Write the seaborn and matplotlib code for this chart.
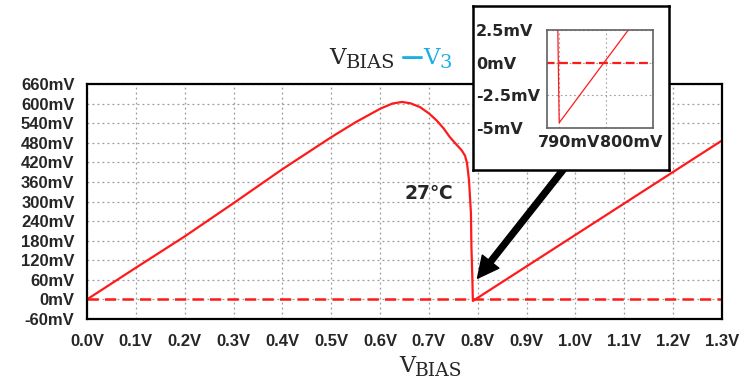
import matplotlib
matplotlib.use('Agg')
import matplotlib.pyplot as plt
import seaborn as sns
from matplotlib.transforms import ScaledTranslation

# V_BIAS - V3 sweep at 27C (V, mV)
v_bias = [0.0, 0.1, 0.2, 0.3, 0.4, 0.5, 0.55, 0.6, 0.625, 0.645, 0.662, 0.682,
          0.700, 0.716, 0.730, 0.743, 0.756, 0.767, 0.774, 0.778, 0.782, 0.786,
          0.787, 0.789, 0.7897, 0.7900, 1.3]
v_diff = [0, 97, 193, 295, 399, 497, 543, 584, 600, 605, 601, 589,
          570, 548, 524, 497, 475, 457, 440, 417, 366, 265,
          162, 61, 10, -4.6, 487]
zero_v = [0.0, 1.3]
zero_mv = [0, 0]

x_ticks = [0.0, 0.1, 0.2, 0.3, 0.4, 0.5, 0.6, 0.7, 0.8, 0.9, 1.0, 1.1, 1.2, 1.3]
x_labels = ['0.0V', '0.1V', '0.2V', '0.3V', '0.4V', '0.5V', '0.6V', '0.7V',
            '0.8V', '0.9V', '1.0V', '1.1V', '1.2V', '1.3V']
y_ticks = [-60, 0, 60, 120, 180, 240, 300, 360, 420, 480, 540, 600, 660]
y_labels = ['-60mV', '0mV', '60mV', '120mV', '180mV', '240mV', '300mV', '360mV',
            '420mV', '480mV', '540mV', '600mV', '660mV']

# zoomed window around the dip (mV, mV)
in_x_ticks = [790, 795, 800]
in_x_labels = ['790mV', '', '800mV']
in_y_ticks = [2.5, 0, -2.5, -5]
in_y_labels = ['2.5mV', '0mV', '-2.5mV', '-5mV']

RED = '#FF1A1A'
CYAN = '#1AAEE8'

sns.set_style('white')
plt.rcParams['font.family'] = ['Liberation Sans', 'DejaVu Sans']

W, H = 752, 382
fig = plt.figure(figsize=(W / 100, H / 100), dpi=100)

def fx(px):
    return px / W

def fy(py):
    return 1 - py / H

# main axes
ax = fig.add_axes([fx(87), fy(319), fx(635), 235 / H])
sns.lineplot(x=v_bias, y=v_diff, ax=ax, color=RED, lw=1.6, errorbar=None)
sns.lineplot(x=zero_v, y=zero_mv, ax=ax, color=RED, lw=1.8, errorbar=None,
             linestyle=(0, (4.5, 2.5)))
ax.set_xlim(0, 1.3)
ax.set_ylim(-60, 660)
ax.set_xticks(x_ticks, x_labels)
ax.set_yticks(y_ticks, y_labels)
ax.grid(True, color='#9a9a9a', lw=0.9, linestyle=(0, (1.5, 2.5)))
for s in ax.spines.values():
    s.set_color('black')
    s.set_linewidth(1.6)
ax.tick_params(direction='out', length=7, width=1.6, color='black',
               labelsize=12, pad=2)
ax.tick_params(axis='x', pad=3.5)
for lab in ax.get_xticklabels() + ax.get_yticklabels():
    lab.set_fontweight('bold')

ax.text(0.70, 326, '27\u2103', fontsize=13.5, fontweight='bold',
        family=['DejaVu Sans'], ha='center', va='center')

ax.annotate('', xy=(0.7995, 65), xytext=(0.99, 426),
            arrowprops=dict(arrowstyle='simple,head_width=0.8,head_length=0.8,tail_width=0.22',
                            color='black', mutation_scale=19, shrinkA=0, shrinkB=0),
            annotation_clip=False, zorder=4)

# title  V_BIAS - V3
serif = ['DejaVu Serif']
t1 = fig.text(fx(329), fy(64), 'V', fontsize=16.5, family=serif, va='baseline')
t2 = ax.annotate('BIAS', xy=(1, 0), xycoords=t1, xytext=(0, 1),
                 textcoords='offset points', fontsize=14, family=serif,
                 va='baseline', ha='left', annotation_clip=False)
t3 = ax.annotate('\u2014', xy=(1, 0), xycoords=(t2, t1), xytext=(4, 0),
                 textcoords='offset points', fontsize=16.5, family=serif,
                 fontweight='bold', color=CYAN, va='bottom', ha='left',
                 annotation_clip=False)
t4 = ax.annotate('V', xy=(1, 0), xycoords=(t3, t1), fontsize=16.5, family=serif,
                 color=CYAN, va='bottom', ha='left', annotation_clip=False)
t5 = ax.annotate('3', xy=(1, 0), xycoords=t4, xytext=(0, 1),
                 textcoords='offset points', fontsize=14, family=serif,
                 color=CYAN, va='baseline', ha='left', annotation_clip=False)

# x label  V_BIAS
x1 = fig.text(fx(399), fy(372), 'V', fontsize=16, family=serif, va='baseline')
ax.annotate('BIAS', xy=(1, 0), xycoords=x1, xytext=(0, 1),
            textcoords='offset points', fontsize=13.5, family=serif,
            va='baseline', ha='left', annotation_clip=False)

# inset frame
ax_box = fig.add_axes([fx(473), fy(170), fx(196), 164 / H], zorder=5)
ax_box.set_xticks([])
ax_box.set_yticks([])
ax_box.set_facecolor('white')
for s in ax_box.spines.values():
    s.set_color('black')
    s.set_linewidth(1.8)

ax_in = fig.add_axes([fx(547), fy(128), fx(106), 98 / H], zorder=6)
sns.lineplot(x=[v * 1000 for v in v_bias], y=v_diff, ax=ax_in, color=RED,
             lw=0.9, errorbar=None)
sns.lineplot(x=[v * 1000 for v in zero_v], y=zero_mv, ax=ax_in, color=RED,
             lw=1.6, errorbar=None, linestyle=(0, (4, 2)))
ax_in.set_xlim(788.7, 800)
ax_in.set_ylim(-5, 2.5)
ax_in.set_xticks(in_x_ticks, in_x_labels)
ax_in.set_yticks(in_y_ticks, in_y_labels)
ax_in.grid(True, color='#a0a0a0', lw=0.8, linestyle=(0, (1.5, 2.5)))
for s in ax_in.spines.values():
    s.set_color('#606060')
    s.set_linewidth(1.2)
ax_in.tick_params(direction='out', length=5, width=1.0, color='#606060',
                  labelsize=11.5, pad=0)
ax_in.tick_params(axis='y', pad=(547 - 476) * 0.72 - 5)
for lab in ax_in.get_yticklabels():
    lab.set_fontweight('bold')
    lab.set_family(['DejaVu Sans'])
    lab.set_ha('left')
shifts = [10, 0, -22]
for lab, dx in zip(ax_in.get_xticklabels(), shifts):
    lab.set_fontweight('bold')
    lab.set_family(['DejaVu Sans'])
    lab.set_transform(lab.get_transform() + ScaledTranslation(dx / 100, 0, fig.dpi_scale_trans))

fig.savefig('out.png', dpi=100)
